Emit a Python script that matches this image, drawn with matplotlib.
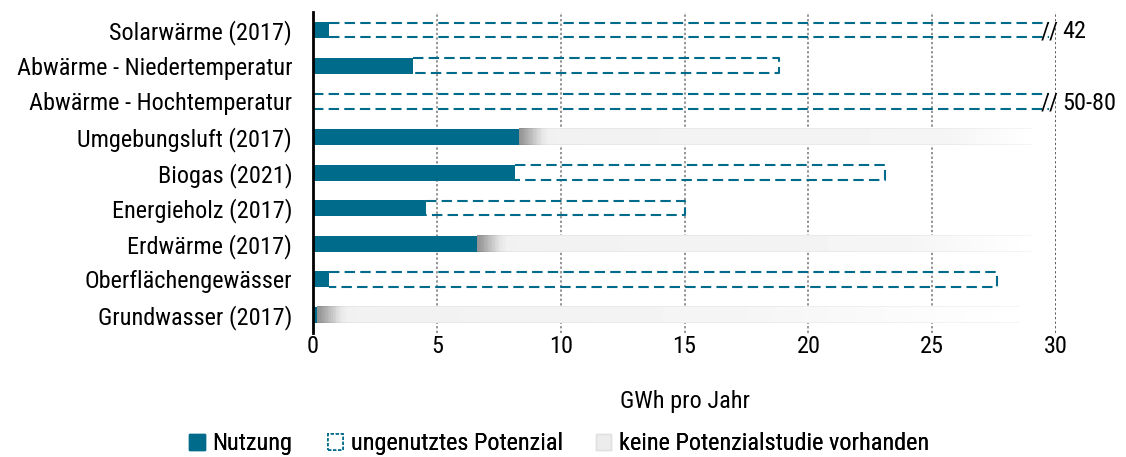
import matplotlib
matplotlib.use("Agg")
import matplotlib.pyplot as plt
from matplotlib.patches import Patch
import numpy as np

plt.rcParams["font.family"] = ["Roboto Condensed", "DejaVu Sans"]
fs = 17.5

# data
categories = ["Solarwärme (2017)", "Abwärme - Niedertemperatur", "Abwärme - Hochtemperatur",
              "Umgebungsluft (2017)", "Biogas (2021)", "Energieholz (2017)", "Erdwärme (2017)",
              "Oberflächengewässer", "Grundwasser (2017)"]
nutzung = [0.65, 4.05, 0.0, 8.3, 8.15, 4.55, 6.6, 0.65, 0.15]
# total potential (None = no study); values beyond the axis are broken
potenzial = [42, 18.8, 80, None, 23.1, 15.0, None, 27.6, None]
potenzial_label = ["42", None, "50-80", None, None, None, None, None, None]
keine_studie_bis = [None, None, None, 29.0, None, None, 29.0, None, 28.5]
legend_labels = ["Nutzung", "ungenutztes Potenzial", "keine Potenzialstudie vorhanden"]

teal = "#006b8a"
xmax = 30
h = 0.45

fig = plt.figure(figsize=(11.26, 4.57), dpi=100)
ax = fig.add_axes([0.278, 0.272, 0.66, 0.701])

y = np.arange(len(categories))

# gray gradient bars (no potential study)
for i, end in enumerate(keine_studie_bis):
    if end is None:
        continue
    start = nutzung[i]
    xs = np.linspace(start, end, 400)
    d = xs - start
    grey = np.interp(d, [0, 0.15, 0.9, 1.2, end * 0.6, end - start], [0.58, 0.62, 0.9, 0.945, 0.96, 1.0])
    img = np.tile(grey, (20, 1))
    edge = np.clip(grey - 0.04, 0, 1)
    img[0, :] = edge
    img[-1, :] = edge
    ax.imshow(img, cmap="gray", vmin=0, vmax=1, aspect="auto", interpolation="nearest",
              extent=[start, end, y[i] + h / 2, y[i] - h / 2], zorder=1)

# used part
ax.barh(y, nutzung, height=h, color=teal, zorder=3)

# unused potential (dashed outline)
for i, pot in enumerate(potenzial):
    if pot is None:
        continue
    x0 = nutzung[i]
    top, bot = y[i] - h / 2 + 0.02, y[i] + h / 2 - 0.02
    if pot > xmax:
        x1 = xmax - 0.3
        ax.plot([x0, x1], [top, top], color=teal, lw=1.5, ls=(0, (5, 2.5)), zorder=4)
        ax.plot([x0, x1], [bot, bot], color=teal, lw=1.5, ls=(0, (5, 2.5)), zorder=4)
        ax.text(xmax - 0.25, y[i] + 0.05, "//", ha="center", va="center", fontsize=fs,
                color="black", zorder=5, clip_on=False)
        ax.text(xmax + 0.25, y[i] + 0.05, potenzial_label[i], ha="left", va="center",
                fontsize=fs, clip_on=False)
    else:
        ax.plot([x0, pot, pot, x0], [top, top, bot, bot], color=teal, lw=1.5,
                ls=(0, (5, 2.5)), zorder=4)

ax.set_xlim(0, xmax)
ax.set_ylim(len(categories) - 0.5, -0.5)
ax.set_yticks(y)
ax.set_yticklabels(categories, fontsize=fs)
ax.set_xticks(range(0, 31, 5))
ax.tick_params(axis="x", labelsize=fs, length=0, pad=2)
ax.tick_params(axis="y", length=0, pad=15)
ax.set_xlabel("GWh pro Jahr", fontsize=fs, labelpad=23)

for s in ["top", "right", "bottom"]:
    ax.spines[s].set_visible(False)
ax.spines["left"].set_linewidth(2)
ax.spines["left"].set_zorder(6)

for gx in range(5, 31, 5):
    ax.axvline(gx, color="#777777" if gx < 30 else "#333333", lw=1.1, ls=(0, (1.5, 1.5)), zorder=0)

handles = [Patch(facecolor=teal, edgecolor=teal),
           Patch(facecolor="white", edgecolor=teal, ls=(0, (2, 1)), lw=1.2),
           Patch(facecolor="#ececec", edgecolor="#e0e0e0")]
legend_x = [0.168, 0.291, 0.529]
for hnd, lab, lx in zip(handles, legend_labels, legend_x):
    fig.add_artist(fig.legend([hnd], [lab], loc="center left", bbox_to_anchor=(lx, 0.029),
                              frameon=False, fontsize=fs, handlelength=0.65, handleheight=0.65,
                              handletextpad=0.3, borderaxespad=0, borderpad=0))

fig.savefig("out.png", dpi=100)
